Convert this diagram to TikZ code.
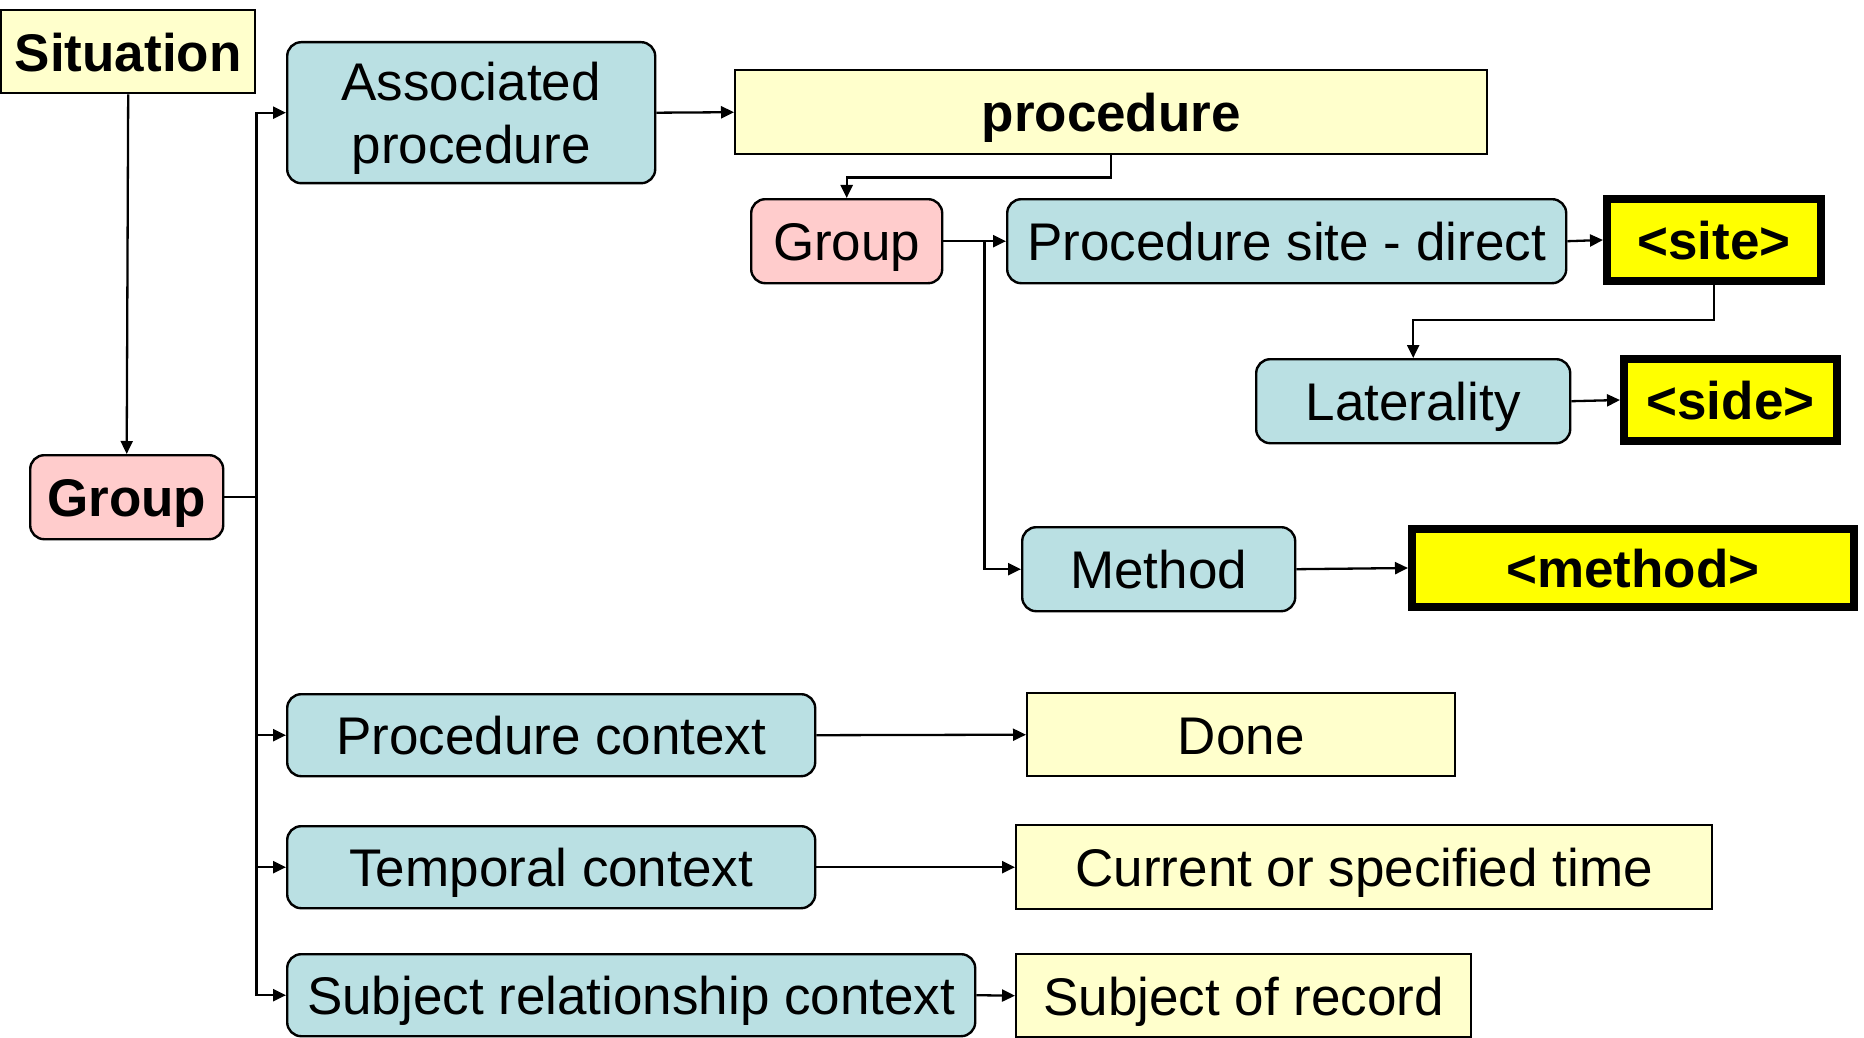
\documentclass[tikz,border=0pt]{standalone}
\usepackage{fontspec}
\setmainfont{Liberation Sans}
\usetikzlibrary{arrows.meta}
\definecolor{lyellow}{HTML}{FFFFCC}
\definecolor{lblue}{HTML}{BAE0E3}
\definecolor{lpink}{HTML}{FFCCCC}
\definecolor{byellow}{HTML}{FFFF00}
\tikzset{
  base/.style={draw=black, line width=1.2pt, inner sep=0pt, anchor=north west,
    font=\fontsize{26.5}{31.7}\selectfont, text=black, text height=19.5pt, text depth=0pt},
  yel/.style={base, fill=lyellow},
  blu/.style={base, fill=lblue, rounded corners=7pt},
  pnk/.style={base, fill=lpink, rounded corners=7pt},
  hot/.style={base, fill=byellow, line width=4pt, font=\fontsize{26.5}{31.7}\selectfont\bfseries},
  bold/.style={font=\fontsize{26.5}{31.7}\selectfont\bfseries},
  arr/.style={line width=1.15pt, -{Triangle[length=6.5pt,width=6pt]}},
}
\newcommand{\twolines}[2]{\makebox[0pt]{\raisebox{16pt}[0pt][0pt]{\makebox[0pt]{#1}}\raisebox{-15.7pt}[0pt][0pt]{\makebox[0pt]{#2}}}}
\begin{document}
\begin{tikzpicture}[x=0.5pt,y=-0.5pt]
\useasboundingbox (0,0) rectangle (1864,1038);
% nodes
\node[yel, bold, minimum width=127pt, minimum height=41.5pt] (sit) at (0,9) {Situation};
\node[blu, minimum width=184pt, minimum height=70.5pt] (assoc) at (286,41) {\twolines{Associated}{procedure}};
\node[yel, bold, minimum width=376pt, minimum height=42pt] (proc) at (734,69) {procedure};
\node[pnk, minimum width=95.5pt, minimum height=42pt] (grp2) at (750,198) {Group};
\node[blu, minimum width=279.5pt, minimum height=42pt] (psd) at (1006,198) {Procedure site - direct};
\node[hot, minimum width=107pt, minimum height=41pt] (site) at (1603,195) {<site>};
\node[blu, minimum width=157pt, minimum height=42pt] (lat) at (1255,358) {Laterality};
\node[hot, minimum width=106.5pt, minimum height=41pt] (side) at (1620,355) {<side>};
\node[pnk, bold, minimum width=96.5pt, minimum height=42pt] (grp1) at (29,454) {Group};
\node[blu, minimum width=136.5pt, minimum height=42pt] (meth) at (1021,526) {Method};
\node[hot, minimum width=221pt, minimum height=39pt] (method) at (1408,525) {<method>};
\node[blu, minimum width=264pt, minimum height=41pt] (pctx) at (286,693) {Procedure context};
\node[yel, minimum width=214pt, minimum height=41.5pt] (done) at (1026,692) {Done};
\node[blu, minimum width=264pt, minimum height=41pt] (tctx) at (286,825) {Temporal context};
\node[yel, minimum width=348pt, minimum height=42pt] (cur) at (1015,824) {Current or specified time};
\node[blu, minimum width=344pt, minimum height=41pt] (srctx) at (286,953) {Subject relationship context};
\node[yel, minimum width=227.5pt, minimum height=41.5pt] (sor) at (1015,953) {Subject of record};
% connectors
\draw[arr] (sit.south) -- (grp1.north);
\draw[arr] (grp1.east) -- ++(32,0) |- (assoc.west);
\draw[arr] (grp1.east) -- ++(32,0) |- (pctx.west);
\draw[arr] (grp1.east) -- ++(32,0) |- (tctx.west);
\draw[arr] (grp1.east) -- ++(32,0) |- (srctx.west);
\draw[arr] (assoc.east) -- (proc.west);
\draw[arr] (proc.south) -- ++(0,22) -| (grp2.north);
\draw[arr] (grp2.east) -- (psd.west);
\draw[arr] (grp2.east) -- ++(41,0) |- (meth.west);
\draw[arr] (psd.east) -- (site.west);
\draw[arr] (site.south) -- ++(0,35) -| (lat.north);
\draw[arr] (lat.east) -- (side.west);
\draw[arr] (meth.east) -- (method.west);
\draw[arr] (pctx.east) -- (done.west);
\draw[arr] (tctx.east) -- (cur.west);
\draw[arr] (srctx.east) -- (sor.west);
\end{tikzpicture}
\end{document}
